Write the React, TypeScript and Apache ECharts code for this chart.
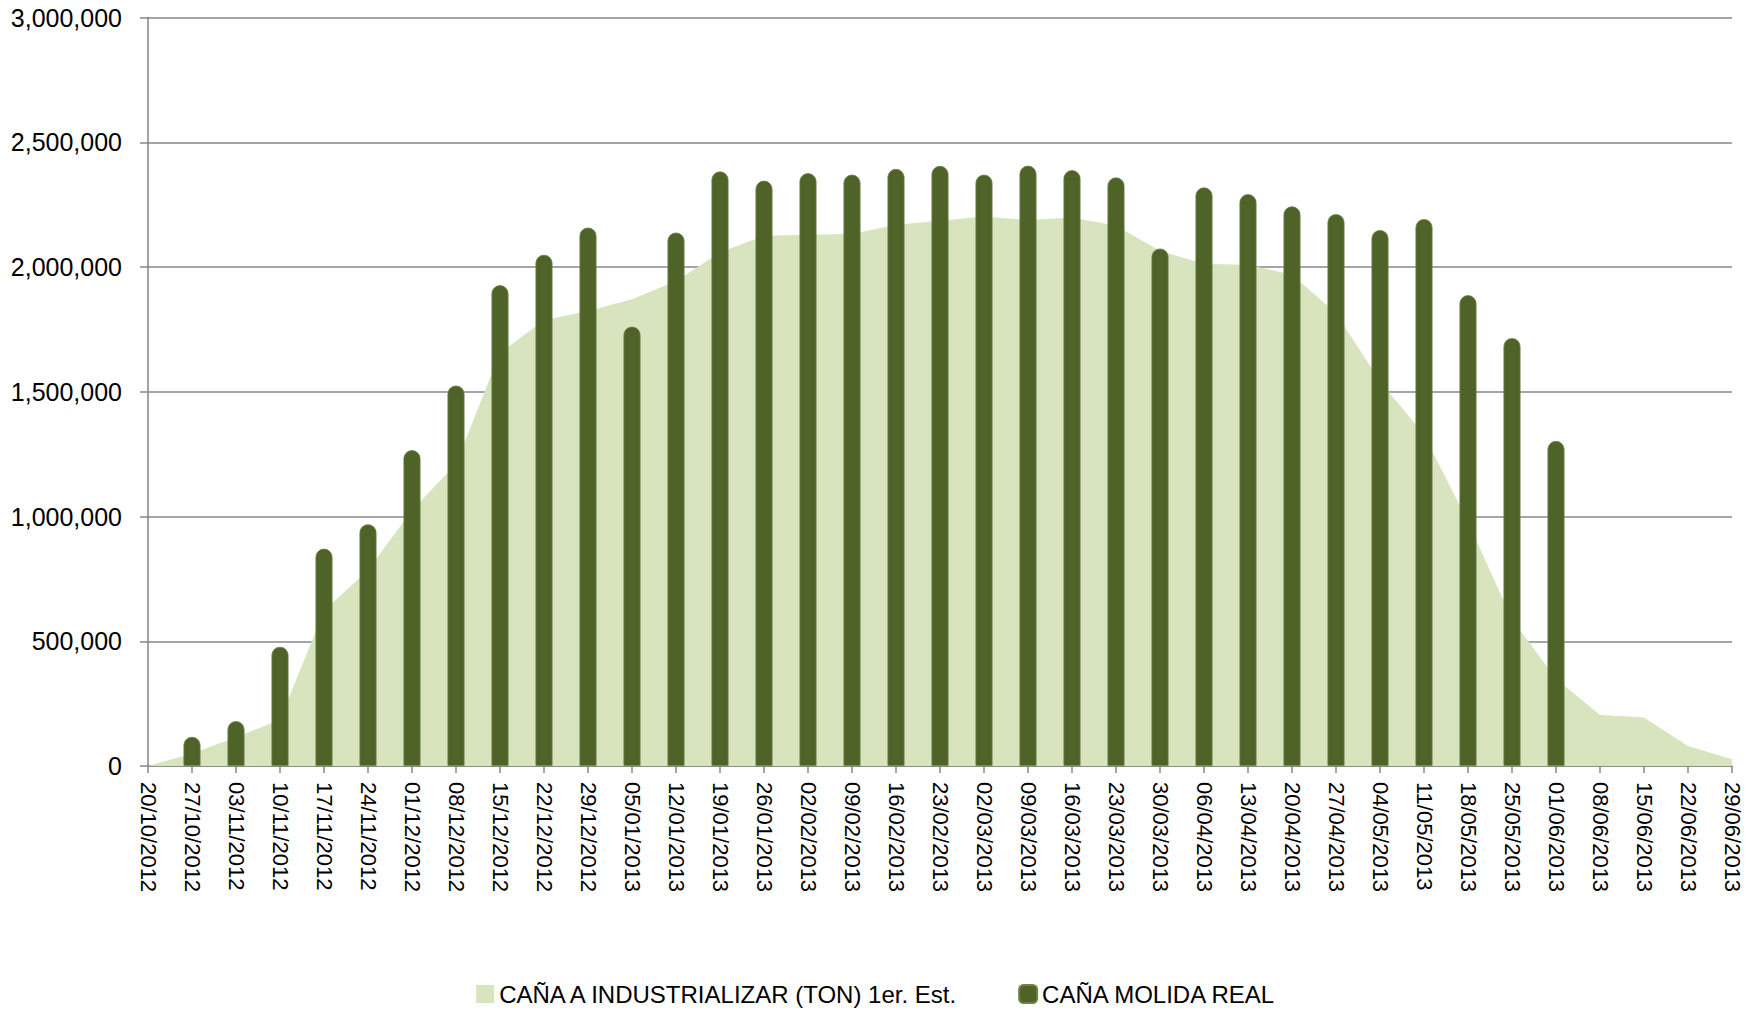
import React, { useEffect, useRef } from "react";
import * as echarts from "echarts";

const categories = [
  "20/10/2012", "27/10/2012", "03/11/2012", "10/11/2012", "17/11/2012", "24/11/2012",
  "01/12/2012", "08/12/2012", "15/12/2012", "22/12/2012", "29/12/2012", "05/01/2013",
  "12/01/2013", "19/01/2013", "26/01/2013", "02/02/2013", "09/02/2013", "16/02/2013",
  "23/02/2013", "02/03/2013", "09/03/2013", "16/03/2013", "23/03/2013", "30/03/2013",
  "06/04/2013", "13/04/2013", "20/04/2013", "27/04/2013", "04/05/2013", "11/05/2013",
  "18/05/2013", "25/05/2013", "01/06/2013", "08/06/2013", "15/06/2013", "22/06/2013",
  "29/06/2013",
];

const canaIndustrializar = [
  0, 50000, 115000, 185000, 621000, 786000, 1025000, 1210000, 1655000, 1787000,
  1824000, 1871000, 1944000, 2058000, 2125000, 2129000, 2132000, 2169000, 2185000,
  2202000, 2188000, 2198000, 2165000, 2065000, 2012000, 2009000, 1969000, 1815000,
  1542000, 1328000, 978000, 588000, 350000, 204000, 194000, 80000, 27000,
];

const canaMolidaReal = [
  null, 117000, 180000, 478000, 871000, 969000, 1266000, 1525000, 1927000, 2049000,
  2158000, 1761000, 2138000, 2383000, 2346000, 2376000, 2370000, 2393000, 2405000,
  2370000, 2406000, 2388000, 2359000, 2074000, 2319000, 2292000, 2243000, 2212000,
  2148000, 2192000, 1887000, 1715000, 1303000, null, null, null, null,
];

const seriesNames = ["CAÑA A INDUSTRIALIZAR (TON) 1er. Est.", "CAÑA MOLIDA REAL"];

const FONT = "Liberation Sans";

export default function App() {
  const ref = useRef<HTMLDivElement>(null);

  useEffect(() => {
    if (!ref.current) return;
    const chart = echarts.init(ref.current, null, { renderer: "svg" });
    chart.setOption({
      animation: false,
      backgroundColor: "#ffffff",
      grid: { left: 148, right: 21, top: 17.5, bottom: 244, containLabel: false },
      legend: {
        data: [
          { name: seriesNames[0], icon: "rect" },
          { name: seriesNames[1], icon: "roundRect" },
        ],
        left: "center",
        top: 982,
        padding: 0,
        itemWidth: 18,
        itemHeight: 18,
        itemGap: 58,
        textStyle: { fontFamily: FONT, fontSize: 24, lineHeight: 24, color: "#000" },
      },
      xAxis: {
        type: "category",
        data: categories,
        boundaryGap: false,
        axisLine: { show: true, lineStyle: { color: "#868686", width: 1.5 } },
        axisTick: { show: true, interval: 0, length: 7, lineStyle: { color: "#868686", width: 1.5 } },
        axisLabel: {
          interval: 0,
          rotate: -90,
          margin: 16,
          fontFamily: FONT,
          fontSize: 22,
          color: "#000",
        },
        splitLine: { show: false },
      },
      yAxis: {
        type: "value",
        min: 0,
        max: 3000000,
        interval: 500000,
        axisLine: { show: true, lineStyle: { color: "#868686", width: 1.5 } },
        axisTick: { show: true, length: 8, lineStyle: { color: "#868686", width: 1.5 } },
        axisLabel: {
          margin: 26,
          fontFamily: FONT,
          fontSize: 25,
          color: "#000",
          formatter: (v: number) => v.toLocaleString("en-US"),
        },
        splitLine: { show: true, lineStyle: { color: "#878787", width: 1.5 } },
      },
      series: [
        {
          name: seriesNames[0],
          type: "line",
          data: canaIndustrializar,
          symbol: "none",
          lineStyle: { width: 0, color: "#D7E4BD" },
          itemStyle: { color: "#D7E4BD" },
          areaStyle: { color: "#D7E4BD", opacity: 1 },
          z: 1,
        },
        {
          name: seriesNames[1],
          type: "bar",
          data: canaMolidaReal,
          barWidth: 17,
          itemStyle: {
            color: "#4F6228",
            borderRadius: [8, 8, 0, 0],
            borderColor: "#6f8247",
            borderWidth: 0.8,
          },
          z: 3,
        },
      ],
    });
    return () => chart.dispose();
  }, []);

  return (
    <div
      ref={ref}
      style={{ position: "absolute", left: 0, top: 0, width: 1753, height: 1010 }}
    />
  );
}
